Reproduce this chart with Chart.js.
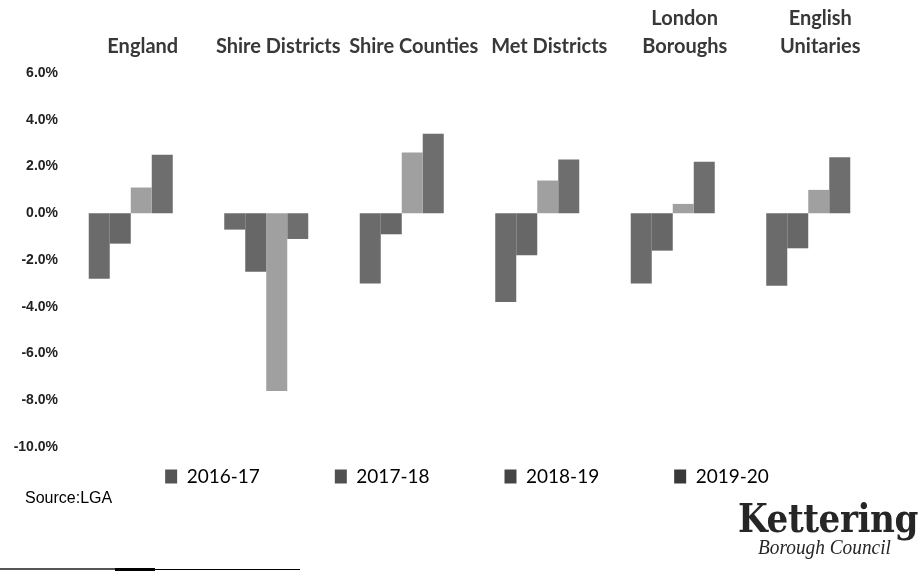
<!DOCTYPE html>
<html>
<head>
<meta charset="utf-8">
<script src="https://cdn.jsdelivr.net/npm/chart.js@4.4.1/dist/chart.umd.min.js"></script>
<style>
  html, body { margin: 0; padding: 0; background: #ffffff; }
  #wrap { position: relative; width: 919px; height: 571px; overflow: hidden; background: #fff; }
  #c { position: absolute; left: 0; top: 0; }
  .txt { position: absolute; white-space: nowrap; }
</style>
</head>
<body>
<div id="wrap">
  <canvas id="c" width="919" height="571"></canvas>
  <div class="txt" id="src" style="left:25px; top:489px; font:16px 'Liberation Sans', Arial, sans-serif; color:#000; transform-origin:left top; transform:scaleX(1.0);">Source:LGA</div>
  <div class="txt" id="k1" style="left:738px; top:494px; font:bold 40px 'DejaVu Serif', serif; color:#262626; transform-origin:left top; transform:scaleX(0.855); letter-spacing:-0.5px;">Kettering</div>
  <div class="txt" id="k2" style="left:758px; top:535px; font:italic 21px 'Liberation Serif', serif; color:#262626; transform-origin:left top; transform:scaleX(0.92);">Borough Council</div>
  <div style="position:absolute; left:0; top:568px; width:115px; height:2px; background:#555;"></div>
  <div style="position:absolute; left:115px; top:568px; width:40px; height:3px; background:#000;"></div>
  <div style="position:absolute; left:155px; top:569px; width:145px; height:1px; background:#000;"></div>
</div>
<script>
// ---- data ----
const categories = ['England', 'Shire Districts', 'Shire Counties', 'Met Districts', ['London', 'Boroughs'], ['English', 'Unitaries']];
const seriesNames = ['2016-17', '2017-18', '2018-19', '2019-20'];
const y2016_17 = [-2.8, -0.7, -3.0, -3.8, -3.0, -3.1];
const y2017_18 = [-1.3, -2.5, -0.9, -1.8, -1.6, -1.5];
const y2018_19 = [1.1, -7.6, 2.6, 1.4, 0.4, 1.0];
const y2019_20 = [2.5, -1.1, 3.4, 2.3, 2.2, 2.4];
const yTickMin = -10, yTickMax = 6, yTickStep = 2;

// ---- styles ----
const barColors = ['#6b6b6b', '#676767', '#a0a0a0', '#6e6e6e'];
const legendColors = ['#555555', '#505050', '#444444', '#383838'];

const seriesValues = [y2016_17, y2017_18, y2018_19, y2019_20];

const legendShiftY = 55;
const legendShiftX = 29;
const shiftLegend = {
  id: 'shiftLegend',
  afterLayout(chart) {
    if (chart.legend) {
      chart.legend.top -= legendShiftY;
      chart.legend.bottom -= legendShiftY;
      chart.legend.left += legendShiftX;
      chart.legend.right += legendShiftX;
    }
  }
};

new Chart(document.getElementById('c'), {
  type: 'bar',
  data: {
    labels: categories,
    datasets: seriesNames.map((name, i) => ({
      label: name,
      data: seriesValues[i],
      backgroundColor: barColors[i],
      borderWidth: 0,
      barPercentage: 1.0,
      categoryPercentage: 0.62
    }))
  },
  options: {
    responsive: false,
    animation: false,
    devicePixelRatio: 1,
    layout: { padding: { left: 0, right: 43, top: 0, bottom: 20 } },
    plugins: {
      tooltip: { enabled: false },
      legend: {
        position: 'bottom',
        align: 'center',
        labels: {
          boxWidth: 12,
          boxHeight: 14,
          padding: 75,
          color: '#444444',
          font: { family: 'Lato', size: 19 },
          generateLabels(chart) {
            return chart.data.datasets.map((ds, i) => ({
              text: ds.label,
              fillStyle: legendColors[i],
              strokeStyle: legendColors[i],
              lineWidth: 0,
              hidden: false,
              datasetIndex: i
            }));
          }
        }
      }
    },
    scales: {
      x: {
        position: 'top',
        grid: { display: false, drawTicks: false },
        border: { display: false },
        ticks: {
          color: '#383838',
          font: { family: 'Lato', size: 20, weight: 'bold', lineHeight: 1.4 },
          padding: 12,
          labelOffset: 12,
          maxRotation: 0,
          autoSkip: false
        },
        afterFit(axis) { axis.height = 73; }
      },
      y: {
        min: yTickMin,
        max: yTickMax,
        grid: { display: false, drawTicks: false },
        border: { display: false },
        ticks: {
          stepSize: yTickStep,
          padding: 5,
          color: '#222222',
          font: { family: 'Liberation Sans', size: 14, weight: 'bold' },
          callback: (v) => v.toFixed(1) + '%'
        },
        afterFit(axis) { axis.width = 63; }
      }
    }
  },
  plugins: [shiftLegend]
});
</script>
</body>
</html>
